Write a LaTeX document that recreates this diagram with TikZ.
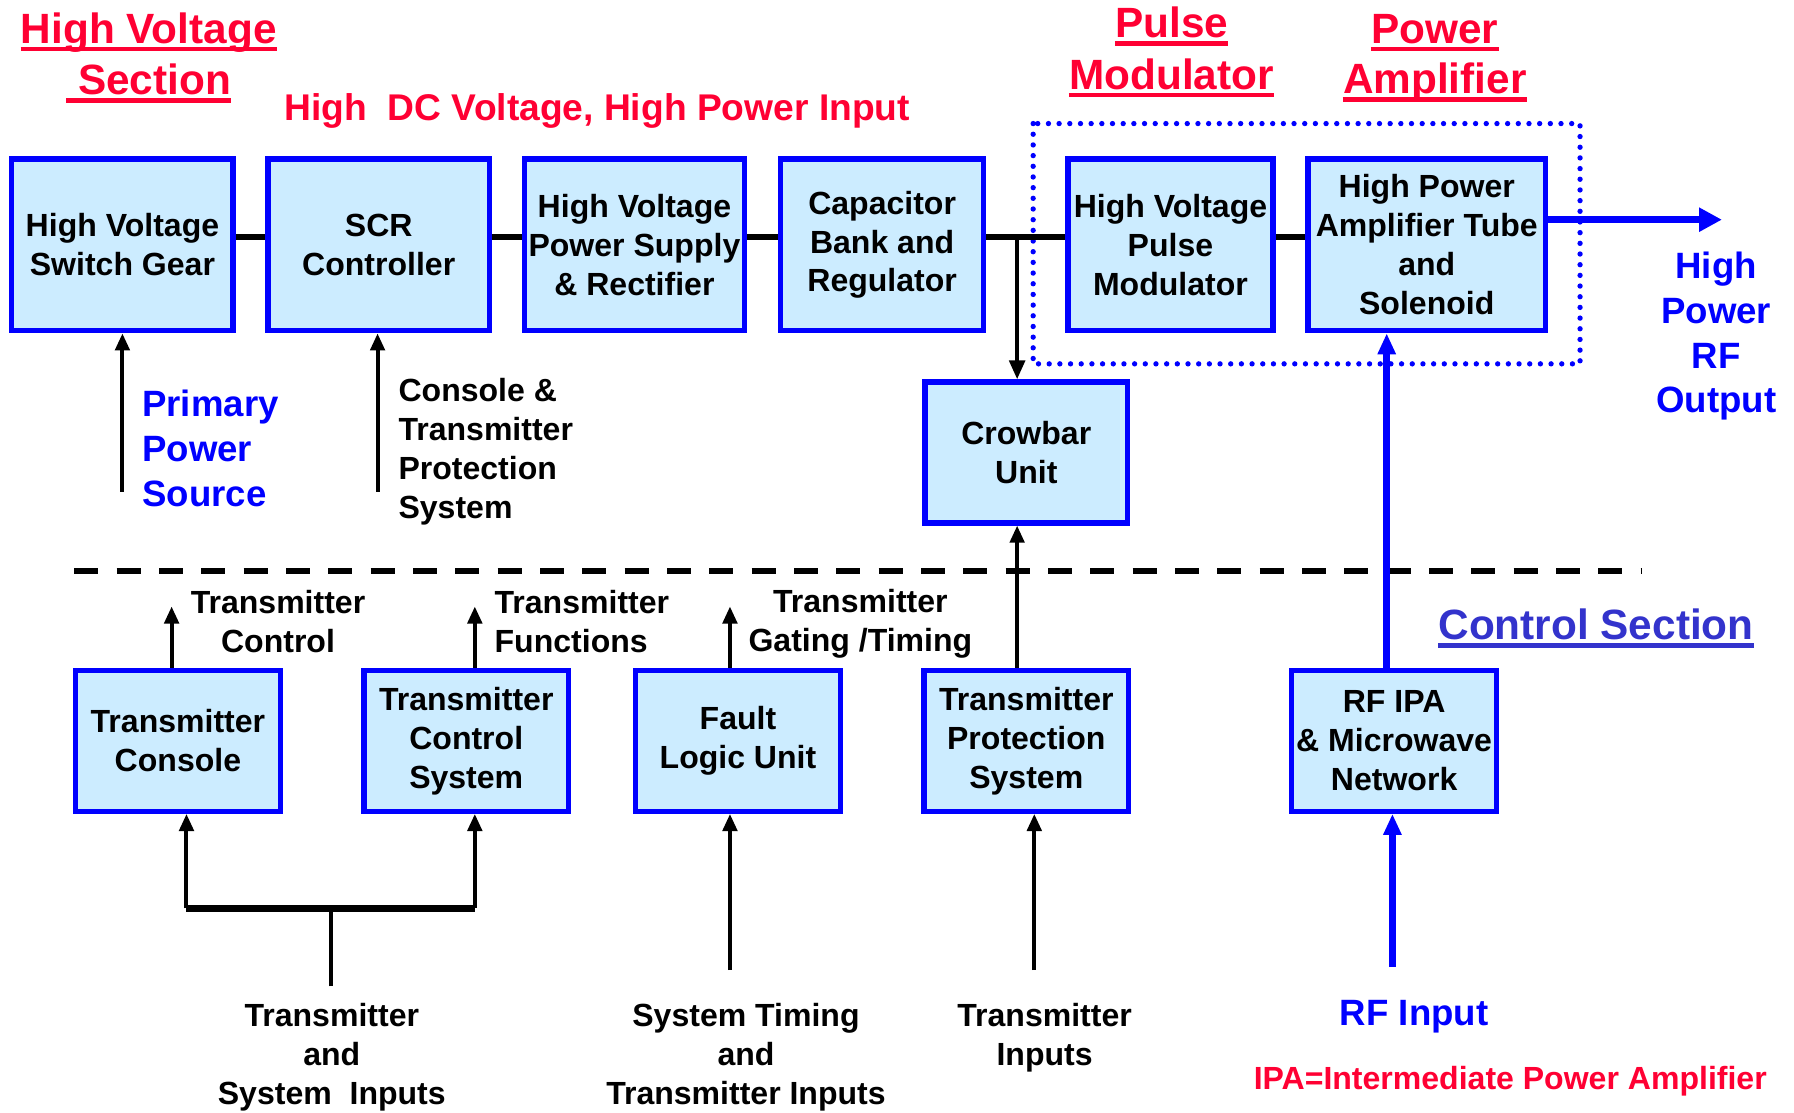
\documentclass[tikz,border=0pt]{standalone}
\usepackage{fontspec}
\setmainfont{Liberation Sans}
\usetikzlibrary{arrows.meta,calc}
\definecolor{boxfill}{HTML}{CCECFF}
\definecolor{hdred}{HTML}{FF0033}
\definecolor{ctlblue}{HTML}{3333CC}
\newcommand\fsz[2]{\fontsize{#1}{#2}\selectfont}
\begin{document}
\begin{tikzpicture}[x=0.6pt,y=-0.6pt,
 blk/.style={draw=blue, line width=2.8pt, fill=boxfill, align=center, inner sep=0pt, font=\fsz{16.8pt}{20.4pt}\bfseries, text=black},
 topbox/.style={blk, minimum height=90pt},
 botbox/.style={blk, minimum height=73.8pt, minimum width=107.4pt},
 hdr/.style={text=hdred, font=\fsz{22.2pt}{27pt}\bfseries, inner sep=0pt},
 uline/.style={line width=2.4pt},
 lbl/.style={font=\fsz{16.8pt}{20.4pt}\bfseries, inner sep=0pt},
 blbl/.style={text=blue, font=\fsz{19.2pt}{23.4pt}\bfseries, inner sep=0pt},
 conn/.style={line width=3.2pt},
 arr/.style={line width=2.1pt, -{Triangle[length=9pt,width=7.5pt]}},
 barr/.style={draw=blue, line width=3.4pt, -{Triangle[length=11pt,width=9pt]}},
]
\useasboundingbox (0,0) rectangle (1568,972);
\fill[white] (0,0) rectangle (1568,972);

% dotted group box
\draw[blue, line width=2.8pt, line cap=round, dash pattern=on 0pt off 5.6pt] (903,108) rectangle (1381,318);

% top row
\node[topbox, minimum width=116pt] (b1) at (107,214) {High Voltage\\Switch Gear};
\node[topbox, minimum width=116pt] (b2) at (331,214) {SCR\\Controller};
\node[topbox, minimum width=115.4pt] (b3) at (554.5,214) {High Voltage\\Power Supply\\\& Rectifier};
\node[topbox, minimum width=106.4pt] (b4) at (771,214) {Capacitor\\Bank and\\Regulator};
\node[topbox, minimum width=107.6pt] (b5) at (1023,214) {High Voltage\\Pulse\\Modulator};
\node[topbox, minimum width=124.4pt] (b6) at (1247,214) {High Power\\Amplifier Tube\\and\\Solenoid};
\node[blk, minimum width=106.4pt, minimum height=73.8pt] (cb) at (897,395.5) {Crowbar\\Unit};

% bottom row
\node[botbox] (c1) at (155.5,647.5) {Transmitter\\Console};
\node[botbox] (c2) at (407.5,647.5) {Transmitter\\Control\\System};
\node[botbox] (c3) at (645,647.5) {Fault\\Logic Unit};
\node[botbox] (c4) at (897,647.5) {Transmitter\\Protection\\System};
\node[botbox] (c5) at (1218.5,647.5) {RF IPA\\\& Microwave\\Network};

% top connectors
\coordinate (lv) at (0,207);
\draw[conn] (b1.east |- lv) -- (b2.west |- lv);
\draw[conn] (b2.east |- lv) -- (b3.west |- lv);
\draw[conn] (b3.east |- lv) -- (b4.west |- lv);
\draw[conn] (b4.east |- lv) -- (b5.west |- lv);
\draw[conn] (b5.east |- lv) -- (b6.west |- lv);
\coordinate (j1) at (889,207);
\draw[line width=2.4pt, -{Triangle[length=10pt,width=8pt]}] (j1) -- (j1 |- cb.north);

% RF output
\coordinate (rfo) at (1505,192);
\draw[draw=blue, line width=3.6pt, -{Triangle[length=12pt,width=12pt]}] (b6.east |- rfo) -- (rfo);

% inputs to top boxes
\coordinate (pp) at (107,430);
\draw[arr] (pp) -- (pp |- b1.south);
\coordinate (cs) at (330,430);
\draw[arr] (cs) -- (cs |- b2.south);

% divider
\draw[line width=3pt, dash pattern=on 12.6pt off 9.6pt] (65,499) -- (1435,499);

% outputs from bottom boxes
\coordinate (t1) at (150,530);
\draw[arr] (c1.north -| t1) -- (t1);
\coordinate (t2) at (415,530);
\draw[arr] (c2.north -| t2) -- (t2);
\coordinate (t3) at (638,530);
\draw[arr] (c3.north -| t3) -- (t3);
\coordinate (t4) at (889,0);
\draw[arr] (c4.north -| t4) -- (cb.south -| t4);
\coordinate (t5) at (1212,0);
\draw[barr] (c5.north -| t5) -- (b6.south -| t5);

% inputs to bottom boxes
\coordinate (f0) at (289,862);
\coordinate (fk) at (289,794);
\coordinate (fl) at (163,794);
\coordinate (fr) at (415,794);
\draw[line width=2.1pt] (f0) -- (fk);
\draw[line width=3.2pt] (fl) -- (fr);
\draw[arr] (fl) -- (c1.south -| fl);
\draw[arr] (fr) -- (c2.south -| fr);
\coordinate (i3) at (638,848);
\draw[arr] (i3) -- (c3.south -| i3);
\coordinate (i4) at (904,848);
\draw[arr] (i4) -- (c4.south -| i4);
\coordinate (i5) at (1217,845);
\draw[barr] (i5) -- (c5.south -| i5);

% labels
\node[blbl, align=left, anchor=west] (lpp) at (124,392) {Primary\\Power\\Source};
\node[lbl, align=left, anchor=west] (lcs) at (348,395) {Console \&\\Transmitter\\Protection\\System};
\node[blbl, align=center] (lrf) at (1500,294) {High\\Power\\RF\\Output};
\node[lbl, align=center] (lt1) at (243,543) {Transmitter\\Control};
\node[lbl, align=left, anchor=west] (lt2) at (432,543) {Transmitter\\Functions};
\node[lbl, align=center] (lt3) at (752,545) {Transmitter\\Gating /Timing};
\node[lbl, align=center] (li1) at (290,924) {Transmitter\\and\\System\ \ Inputs};
\node[lbl, align=center] (li3) at (652,924) {System Timing\\and\\Transmitter Inputs};
\node[lbl, align=center] (li4) at (913,907) {Transmitter\\Inputs};
\node[blbl] (li5) at (1236,889) {RF Input};
\node[text=hdred, font=\fsz{16.8pt}{20pt}\bfseries, inner sep=0pt] (ipa) at (1320,945) {IPA=Intermediate Power Amplifier};

% headers
\node[hdr, anchor=base] (h1a) at (130,38) {High Voltage};
\node[hdr, anchor=base] (h1b) at (130,83) {\ Section};
\node[hdr, anchor=base] (h2a) at (1024,33) {Pulse};
\node[hdr, anchor=base] (h2b) at (1024,78) {Modulator};
\node[hdr, anchor=base] (h3a) at (1254,38) {Power};
\node[hdr, anchor=base] (h3b) at (1254,82) {Amplifier};
\node[hdr, text=ctlblue, anchor=base] (h4) at (1395,559) {Control Section};
\foreach \n in {h1a,h1b,h2a,h2b,h3a,h3b}
  \draw[uline, hdred] ([yshift=-3pt]\n.base west) -- ([yshift=-3pt]\n.base east);
\draw[uline, ctlblue] ([yshift=-3pt]h4.base west) -- ([yshift=-3pt]h4.base east);
\node[text=hdred, font=\fsz{19.5pt}{24pt}\bfseries, inner sep=0pt] (hdc) at (522,97) {High\ \ DC Voltage, High Power Input};
\end{tikzpicture}
\end{document}
